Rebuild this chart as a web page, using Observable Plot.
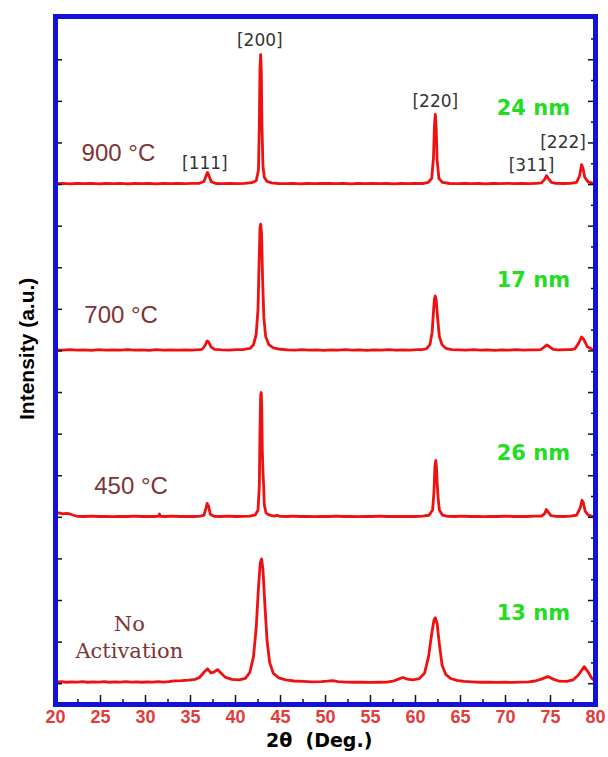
<!DOCTYPE html>
<html><head><meta charset="utf-8">
<script src="https://cdn.jsdelivr.net/npm/d3@7"></script>
<script src="https://cdn.jsdelivr.net/npm/@observablehq/plot@0.6"></script>
<style>body{margin:0;background:#fff} #chart svg{display:block}</style>
</head><body><div id="chart"></div>
<script>
// Samples (top to bottom) and their vertical stacking offsets (a.u.)
const samples = ["900 °C", "700 °C", "450 °C", "No Activation"];
const offsets = [25, 17, 9, 1];
const crystallite = ["24 nm", "17 nm", "26 nm", "13 nm"];

// XRD patterns: [2θ, intensity above own baseline]
const trace900 = [[20,0.04],[20.8,0.06],[21.6,0.03],[22.4,0.05],[23.2,0.04],[24,0.06],[24.8,0.03],[25.6,0.05],[26.4,0.04],[27.2,0.06],[28,0.03],[28.8,0.05],[29.6,0.04],[30.4,0.05],[31.2,0.03],[32,0.06],[32.8,0.04],[33.6,0.05],[34.4,0.04],[35.2,0.06],[36,0.06],[36.5,0.15],[36.75,0.45],[36.9,0.58],[37.05,0.42],[37.3,0.14],[37.8,0.05],[38.6,0.04],[39.4,0.06],[40.2,0.04],[41,0.06],[41.8,0.09],[42.3,0.18],[42.55,0.7],[42.65,2.9],[42.72,5.6],[42.8,6.25],[42.87,5.4],[42.94,2.8],[43.05,0.9],[43.2,0.35],[43.5,0.15],[44,0.08],[44.8,0.05],[45.6,0.04],[46.4,0.06],[47.2,0.03],[48,0.05],[48.8,0.04],[49.6,0.06],[50.4,0.05],[51.2,0.04],[52,0.06],[52.8,0.03],[53.6,0.05],[54.4,0.04],[55.2,0.06],[56,0.04],[56.8,0.05],[57.6,0.03],[58.4,0.05],[59.2,0.04],[60,0.06],[60.8,0.05],[61.4,0.1],[61.8,0.3],[62.0,1.3],[62.1,2.8],[62.2,3.37],[62.3,2.7],[62.4,1.2],[62.6,0.3],[63,0.1],[63.8,0.05],[64.6,0.04],[65.4,0.06],[66.2,0.04],[67,0.05],[67.8,0.03],[68.6,0.05],[69.4,0.04],[70.2,0.06],[71,0.04],[71.8,0.05],[72.6,0.04],[73.4,0.06],[74,0.08],[74.35,0.25],[74.55,0.43],[74.75,0.3],[75.1,0.1],[75.6,0.06],[76.4,0.05],[77.2,0.06],[77.9,0.1],[78.25,0.45],[78.45,0.96],[78.6,0.8],[78.8,0.35],[79.2,0.12],[79.6,0.08],[80,0.06]];

const trace700 = [[20,0.05],[20.8,0.04],[21.6,0.06],[22.4,0.04],[23.2,0.05],[24,0.03],[24.8,0.06],[25.6,0.04],[26.4,0.05],[27.2,0.04],[28,0.06],[28.8,0.04],[29.6,0.05],[30.4,0.03],[31.2,0.06],[32,0.04],[32.8,0.05],[33.6,0.04],[34.4,0.05],[35.2,0.04],[35.9,0.06],[36.3,0.08],[36.6,0.25],[36.85,0.48],[37.0,0.44],[37.3,0.18],[37.7,0.07],[38.5,0.05],[39.3,0.04],[40.1,0.06],[40.9,0.07],[41.6,0.12],[42.0,0.3],[42.3,0.8],[42.5,2.0],[42.62,4.2],[42.72,5.9],[42.8,6.1],[42.9,5.6],[43.0,3.6],[43.15,1.6],[43.35,0.7],[43.7,0.3],[44.2,0.15],[45,0.08],[45.8,0.05],[46.6,0.04],[47.4,0.06],[48.2,0.04],[49,0.05],[49.8,0.03],[50.6,0.05],[51.4,0.04],[52.2,0.06],[53,0.04],[53.8,0.05],[54.6,0.03],[55.4,0.05],[56.2,0.04],[57,0.06],[57.8,0.04],[58.6,0.05],[59.4,0.04],[60.2,0.06],[60.8,0.07],[61.2,0.1],[61.6,0.3],[61.85,0.9],[62.0,1.9],[62.1,2.5],[62.2,2.64],[62.3,2.45],[62.45,1.6],[62.65,0.7],[62.95,0.3],[63.4,0.12],[64,0.06],[64.8,0.05],[65.6,0.04],[66.4,0.06],[67.2,0.04],[68,0.05],[68.8,0.03],[69.6,0.05],[70.4,0.04],[71.2,0.06],[72,0.04],[72.8,0.05],[73.5,0.05],[73.9,0.06],[74.3,0.18],[74.6,0.29],[74.9,0.2],[75.3,0.07],[75.9,0.05],[76.7,0.06],[77.3,0.06],[77.7,0.1],[78.1,0.35],[78.45,0.67],[78.7,0.55],[79.1,0.2],[79.6,0.08],[80,0.05]];

const trace450 = [[20,0.18],[20.4,0.21],[20.8,0.17],[21.2,0.19],[21.6,0.16],[22,0.1],[22.4,0.05],[23.2,0.04],[24,0.06],[24.8,0.04],[25.6,0.05],[26.4,0.03],[27.2,0.05],[28,0.04],[28.8,0.06],[29.6,0.04],[30.4,0.05],[31.2,0.04],[31.45,0.06],[31.55,0.16],[31.65,0.05],[32.2,0.04],[33,0.06],[33.8,0.04],[34.6,0.05],[35.4,0.04],[36.1,0.06],[36.5,0.1],[36.7,0.4],[36.85,0.67],[37.0,0.55],[37.2,0.15],[37.6,0.05],[38.4,0.04],[39.2,0.06],[40,0.04],[40.8,0.05],[41.6,0.06],[42.2,0.12],[42.5,0.35],[42.65,1.5],[42.72,4.2],[42.8,5.9],[42.86,6.0],[42.92,5.2],[42.98,3.2],[43.05,2.2],[43.12,1.6],[43.2,0.6],[43.4,0.2],[43.8,0.1],[44.3,0.06],[44.6,0.1],[44.9,0.05],[45.6,0.04],[46.4,0.06],[47.2,0.04],[48,0.05],[48.8,0.03],[49.6,0.05],[50.4,0.04],[51.2,0.06],[52,0.04],[52.8,0.05],[53.6,0.03],[54.4,0.05],[55.2,0.04],[56,0.06],[56.8,0.04],[57.6,0.05],[58.4,0.04],[59.2,0.05],[60,0.04],[60.8,0.06],[61.5,0.1],[61.9,0.35],[62.05,1.2],[62.15,2.4],[62.25,2.74],[62.33,2.4],[62.4,1.7],[62.5,1.0],[62.65,0.35],[63,0.1],[63.6,0.05],[64.4,0.04],[65.2,0.06],[66,0.04],[66.8,0.05],[67.6,0.03],[68.4,0.05],[69.2,0.04],[70,0.06],[70.8,0.04],[71.6,0.05],[72.4,0.04],[73.2,0.06],[74,0.06],[74.35,0.18],[74.55,0.38],[74.75,0.25],[75.05,0.08],[75.6,0.05],[76.4,0.04],[77.2,0.06],[77.9,0.1],[78.3,0.45],[78.5,0.82],[78.65,0.7],[78.85,0.3],[79.2,0.1],[79.6,0.06],[80,0.05]];

const traceNo = [[20,0.08],[20.6,0.1],[21.2,0.07],[21.8,0.09],[22.4,0.08],[23,0.1],[23.6,0.07],[24.2,0.09],[24.8,0.08],[25.4,0.1],[26,0.07],[26.6,0.09],[27.2,0.08],[27.8,0.1],[28.4,0.08],[29,0.09],[29.6,0.07],[30.2,0.09],[30.8,0.08],[31.4,0.1],[32,0.08],[32.6,0.1],[33.2,0.14],[34,0.15],[34.8,0.17],[35.5,0.21],[36.0,0.3],[36.5,0.55],[36.9,0.72],[37.25,0.52],[37.6,0.56],[38.0,0.68],[38.4,0.5],[38.9,0.3],[39.6,0.21],[40.4,0.18],[41.1,0.26],[41.6,0.55],[42.0,1.3],[42.3,2.7],[42.55,4.6],[42.75,5.8],[42.9,6.0],[43.05,5.5],[43.25,3.9],[43.5,2.1],[43.8,1.0],[44.2,0.5],[44.8,0.28],[45.6,0.18],[46.5,0.13],[47.5,0.11],[48.5,0.09],[49.5,0.1],[50.2,0.12],[50.8,0.15],[51.4,0.1],[52.3,0.08],[53.2,0.07],[54.1,0.08],[55,0.06],[55.9,0.07],[56.8,0.08],[57.5,0.12],[58.1,0.22],[58.6,0.3],[59.1,0.22],[59.7,0.18],[60.4,0.24],[61.0,0.5],[61.45,1.3],[61.8,2.4],[62.05,3.05],[62.2,3.17],[62.4,2.9],[62.65,1.9],[62.95,0.9],[63.35,0.45],[63.9,0.25],[64.6,0.16],[65.4,0.11],[66.3,0.09],[67.2,0.07],[68.1,0.08],[69,0.06],[69.9,0.07],[70.8,0.06],[71.7,0.08],[72.6,0.09],[73.3,0.13],[74.0,0.22],[74.7,0.35],[75.3,0.22],[76,0.12],[76.8,0.11],[77.5,0.18],[78.1,0.42],[78.75,0.82],[79.2,0.55],[79.6,0.25],[80,0.12]];

// Axis ticks and tick labels
const xTickLabels = ["20","25","30","35","40","45","50","55","60","65","70","75","80"];
const xMinorTicks = [22.5,27.5,32.5,37.5,42.5,47.5,52.5,57.5,62.5,67.5,72.5,77.5];
const yMajorTicks = [1,3,5,7,9,11,13,15,17,19,21,23,25,27,29,31];
const yMinorTicks = [2,4,6,8,10,12,14,16,18,20,22,24,26,28,30,32];

// Reflection labels on the 900 °C pattern
const millerText = ["[111]", "[200]", "[220]", "[311]", "[222]"];
const millerX = [36.6, 42.7, 62.2, 72.9, 76.4];
const millerY = [26.0, 31.9, 29.0, 25.9, 27.0];

// Annotation anchor positions (data units)
const sampleLabelX = [22.9, 23.2, 24.3];
const sampleLabelY = [26.5, 18.7, 10.5];
const sizeLabelX = 73.1;
const sizeLabelY = [28.65, 20.4, 12.1, 4.4];
const noActLines = ["No", "Activation"];
const noActX = 28.2;
const noActY = [3.85, 2.55];

const traces = [trace900, trace700, trace450, traceNo];
const rows = traces.flatMap((t, i) => t.map(([x, v]) => ({sample: samples[i], x, y: offsets[i] + v})));

const xTicks = xTickLabels.map(Number);
const tempRows = sampleLabelX.map((x, i) => ({x, y: sampleLabelY[i], t: samples[i]}));
const sizeRows = crystallite.map((t, i) => ({x: sizeLabelX, y: sizeLabelY[i], t}));
const millerRows = millerText.map((t, i) => ({x: millerX[i], y: millerY[i], t}));
const noActRows = noActLines.map((t, i) => ({x: noActX, y: noActY[i], t}));

const plot = Plot.plot({
  width: 608,
  height: 757,
  marginTop: 16,
  marginBottom: 53,
  marginLeft: 55,
  marginRight: 13,
  style: {fontFamily: "'Liberation Sans', Arial, sans-serif", background: "white", overflow: "visible"},
  x: {domain: [20, 80], axis: null},
  y: {domain: [0, 33.08], axis: null},
  marks: [
    Plot.line(rows, {x: "x", y: "y", z: "sample", stroke: "#ee1111", strokeWidth: 2.8, curve: "linear"}),
    // x axis: labels, major and minor inward ticks
    Plot.axisX({anchor: "bottom", ticks: xTicks, tickSize: 0, tickPadding: 6, tickFormat: (d, i) => xTickLabels[i], fill: "#e23b3b", fontSize: 18, fontWeight: "bold", label: null}),
    Plot.axisX({anchor: "bottom", ticks: xTicks, tickSize: -9, tickFormat: () => "", stroke: "#111", strokeWidth: 1.5, label: null}),
    Plot.axisX({anchor: "bottom", ticks: xMinorTicks, tickSize: -5, tickFormat: () => "", stroke: "#111", strokeWidth: 1.5, label: null}),
    // y axes: inward ticks only
    Plot.axisY({anchor: "left", ticks: yMajorTicks, tickSize: -7, tickFormat: () => "", stroke: "#111", strokeWidth: 1.5, label: null}),
    Plot.axisY({anchor: "right", ticks: yMajorTicks, tickSize: -8, tickFormat: () => "", stroke: "#111", strokeWidth: 1.5, label: null}),
    Plot.axisY({anchor: "right", ticks: yMinorTicks, tickSize: -5, tickFormat: () => "", stroke: "#111", strokeWidth: 1.5, label: null}),
    // annotations
    Plot.text(tempRows, {x: "x", y: "y", text: "t", textAnchor: "start", fontSize: 24, fill: "#7d3434"}),
    Plot.text(noActRows, {x: "x", y: "y", text: "t", fontSize: 21, fill: "#7d3434", fontFamily: "'DejaVu Serif', 'Liberation Serif', serif"}),
    Plot.text(sizeRows, {x: "x", y: "y", text: "t", fontSize: 21, fontWeight: "bold", fill: "#22dd22", fontFamily: "'DejaVu Sans', sans-serif"}),
    Plot.text(millerRows, {x: "x", y: "y", text: "t", fontSize: 17, fill: "#333", fontFamily: "'DejaVu Sans', sans-serif"}),
    Plot.text([{t: "Intensity (a.u.)", y: 17.1}], {y: "y", text: "t", frameAnchor: "left", textAnchor: "middle", dx: -28, rotate: -90, fontSize: 21, fontWeight: "bold", fill: "#000"}),
    Plot.text([{t: "2θ  (Deg.)", x: 49.3}], {x: "x", text: "t", frameAnchor: "bottom", textAnchor: "middle", dy: 42, fontSize: 19, fontWeight: "bold", fill: "#000", fontFamily: "'DejaVu Sans', sans-serif"}),
    Plot.frame({stroke: "#1212d6", strokeWidth: 5})
  ]
});
document.getElementById("chart").append(plot);
</script>
</body></html>
